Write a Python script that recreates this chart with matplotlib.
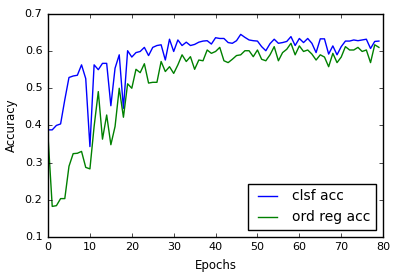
import matplotlib
matplotlib.use("Agg")
import matplotlib.pyplot as plt

plt.style.use("classic")

epochs = list(range(80))
clsf_acc = [0.388, 0.388, 0.400, 0.404, 0.469, 0.529, 0.533, 0.535, 0.563, 0.526,
            0.343, 0.563, 0.550, 0.567, 0.567, 0.453, 0.554, 0.590, 0.446, 0.601,
            0.584, 0.596, 0.599, 0.610, 0.588, 0.610, 0.615, 0.617, 0.576, 0.632,
            0.599, 0.630, 0.615, 0.624, 0.615, 0.618, 0.624, 0.627, 0.628, 0.619,
            0.636, 0.634, 0.634, 0.623, 0.621, 0.628, 0.645, 0.637, 0.630, 0.628,
            0.627, 0.612, 0.601, 0.620, 0.632, 0.621, 0.623, 0.626, 0.639, 0.615,
            0.634, 0.623, 0.634, 0.621, 0.596, 0.633, 0.633, 0.592, 0.614, 0.590,
            0.612, 0.627, 0.627, 0.630, 0.628, 0.630, 0.632, 0.607, 0.626, 0.627]
ord_reg_acc = [0.370, 0.182, 0.184, 0.203, 0.203, 0.290, 0.324, 0.325, 0.330, 0.287,
               0.283, 0.397, 0.491, 0.363, 0.428, 0.348, 0.397, 0.500, 0.422, 0.512,
               0.500, 0.551, 0.542, 0.566, 0.514, 0.516, 0.516, 0.572, 0.545, 0.558,
               0.540, 0.563, 0.590, 0.572, 0.585, 0.551, 0.576, 0.574, 0.603, 0.594,
               0.599, 0.610, 0.574, 0.569, 0.578, 0.588, 0.590, 0.601, 0.601, 0.585,
               0.603, 0.578, 0.574, 0.590, 0.612, 0.574, 0.596, 0.605, 0.621, 0.590,
               0.614, 0.599, 0.603, 0.592, 0.576, 0.590, 0.584, 0.558, 0.594, 0.569,
               0.584, 0.612, 0.603, 0.603, 0.610, 0.599, 0.603, 0.569, 0.617, 0.610]

fig = plt.figure(figsize=(3.97, 2.79), dpi=100, facecolor="white")
ax = fig.add_axes([0.121, 0.151, 0.844, 0.799])
ax.plot(epochs, clsf_acc, color="b", lw=1.0, label="clsf acc")
ax.plot(epochs, ord_reg_acc, color="g", lw=1.0, label="ord reg acc")
ax.set_xlim(0, 80)
ax.set_ylim(0.1, 0.7)
ax.set_xticks(range(0, 81, 10))
ax.set_yticks([0.1, 0.2, 0.3, 0.4, 0.5, 0.6, 0.7])
ax.tick_params(labelsize=8, length=3)
ax.set_xlabel("Epochs", fontsize=8.5)
ax.set_ylabel("Accuracy", fontsize=8.5)
ax.legend(loc="lower right", fontsize=10, numpoints=2)
fig.savefig("out.png", dpi=100, facecolor="white")
